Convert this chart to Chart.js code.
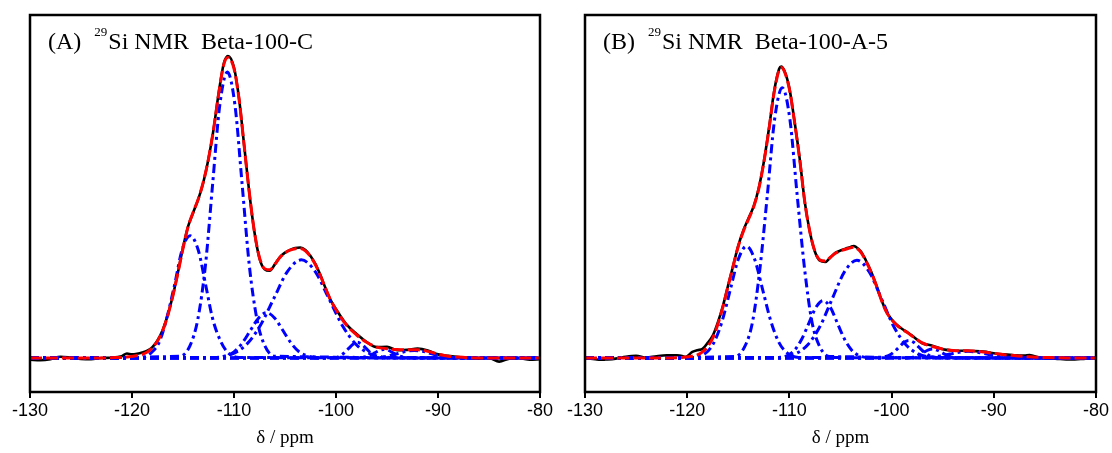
<!DOCTYPE html>
<html>
<head>
<meta charset="utf-8">
<script src="https://cdn.jsdelivr.net/npm/chart.js@4.4.1/dist/chart.umd.min.js"></script>
<style>
  html, body { margin: 0; padding: 0; background: #fff; }
  #wrap { position: relative; width: 1112px; height: 453px; }
  .panel { position: absolute; top: 0; height: 453px; }
</style>
</head>
<body>
<div id="wrap">
  <div class="panel" style="left:0;width:560px"><canvas id="chartA" width="560" height="453"></canvas></div>
  <div class="panel" style="left:556px;width:556px"><canvas id="chartB" width="556" height="453"></canvas></div>
</div>
<script>
// ---------- axis ----------
const xTicks = [-130, -120, -110, -100, -90, -80];

// ---------- panel A : Beta-100-C ----------
const ppmA = [-130,-129,-128,-127,-126,-125,-124,-123,-122,-121,-120.5,-120,-119.5,-119,-118.5,-118,-117.5,-117,-116.5,-116,-115.5,-115,-114.5,-114,-113.5,-113,-112.5,-112,-111.5,-111,-110.6,-110,-109.5,-109,-108.5,-108,-107.5,-107,-106.5,-106,-105.5,-105,-104.5,-104,-103.5,-103,-102.5,-102,-101.5,-101,-100.5,-100,-99,-98,-97,-96,-95,-94,-93,-92,-91,-90,-89,-88,-87,-86,-85,-84,-83,-82,-81,-80];
const expA = [-0.006,-0.007,-0.004,0.004,0.001,-0.003,-0.004,0.0,0.001,0.006,0.015,0.012,0.014,0.018,0.024,0.036,0.058,0.092,0.142,0.206,0.283,0.366,0.436,0.482,0.526,0.583,0.66,0.758,0.878,0.975,1.0,0.962,0.858,0.703,0.548,0.418,0.33,0.294,0.289,0.31,0.334,0.349,0.358,0.364,0.366,0.358,0.338,0.31,0.272,0.229,0.19,0.162,0.112,0.08,0.053,0.036,0.037,0.026,0.027,0.031,0.025,0.012,0.007,0.003,0.001,-0.002,0.0,-0.012,-0.002,-0.001,-0.006,-0.004];
const fitA = [0,0,0,0,0,0,0,0,0.001,0.002,0.003,0.005,0.008,0.012,0.02,0.034,0.056,0.09,0.14,0.205,0.282,0.363,0.435,0.483,0.527,0.584,0.66,0.758,0.876,0.972,0.995,0.958,0.856,0.702,0.548,0.418,0.332,0.296,0.292,0.31,0.333,0.348,0.357,0.362,0.363,0.355,0.336,0.308,0.27,0.228,0.19,0.16,0.11,0.077,0.052,0.036,0.031,0.028,0.027,0.027,0.022,0.013,0.006,0.003,0.001,0,0,0,0,0,0,0];

// deconvoluted components, panel A
const a1Ppm = [-130,-119.1,-118.1,-117.3,-116.6,-115.8,-115.1,-114.3,-113.5,-112.8,-112.1,-111.3,-110.6,-109.5,-80];
const a1Int = [0,0.002,0.018,0.055,0.131,0.246,0.357,0.405,0.357,0.246,0.131,0.055,0.018,0.002,0];
const a2Ppm = [-130,-115.3,-114.3,-113.55,-112.8,-112.1,-111.4,-110.65,-109.9,-109.2,-108.5,-107.75,-107.0,-106.0,-80];
const a2Int = [0,0.006,0.042,0.128,0.307,0.574,0.836,0.947,0.836,0.574,0.307,0.128,0.042,0.006,0];
const a3Ppm = [-130,-111.9,-110.8,-110.0,-109.2,-108.4,-107.6,-106.8,-106.0,-105.2,-104.4,-103.6,-102.8,-101.7,-80];
const a3Int = [0,0.001,0.007,0.02,0.049,0.091,0.132,0.15,0.132,0.091,0.049,0.02,0.007,0.001,0];
const a4Ppm = [-130,-112.0,-110.15,-108.8,-107.45,-106.1,-104.75,-103.4,-102.05,-100.7,-99.35,-98.0,-96.65,-94.8,-80];
const a4Int = [0,0.002,0.014,0.044,0.106,0.197,0.287,0.325,0.287,0.197,0.106,0.044,0.014,0.002,0];
const a5Ppm = [-130,-100.6,-100.0,-99.6,-99.2,-98.75,-98.3,-97.9,-97.5,-97.05,-96.6,-96.2,-95.8,-95.2,-80];
const a5Int = [0,0,0.002,0.007,0.017,0.032,0.046,0.052,0.046,0.032,0.017,0.007,0.002,0,0];
const a6Ppm = [-130,-98.2,-97.55,-97.1,-96.65,-96.2,-95.75,-95.3,-94.85,-94.4,-93.95,-93.5,-93.05,-92.4,-80];
const a6Int = [0,0,0.001,0.004,0.009,0.017,0.025,0.028,0.025,0.017,0.009,0.004,0.001,0,0];
const a7Ppm = [-130,-97.4,-96.3,-95.5,-94.7,-93.9,-93.1,-92.3,-91.5,-90.7,-89.9,-89.1,-88.3,-87.2,-80];
const a7Int = [0,0,0.001,0.003,0.008,0.015,0.022,0.025,0.022,0.015,0.008,0.003,0.001,0,0];

// ---------- panel B : Beta-100-A-5 ----------
const ppmB = [-130,-129,-128.5,-128,-127,-126,-125,-124,-123,-122,-121,-120.5,-120.2,-119.5,-119,-118.5,-118,-117.5,-117,-116.5,-116,-115.5,-115,-114.5,-114,-113.5,-113,-112.5,-112,-111.5,-111,-110.8,-110.5,-110,-109.5,-109,-108.5,-108,-107.5,-107,-106.5,-106,-105.5,-105,-104.5,-104,-103.7,-103.5,-103,-102.5,-102,-101.5,-101,-100.5,-100,-99.5,-99,-98.5,-98,-97,-96,-95,-94,-93,-92,-91,-90,-89,-88,-87,-86.5,-85.5,-84,-82.5,-81,-80];
const expB = [0.0,-0.004,-0.006,-0.005,-0.002,0.004,0.007,0.001,0.006,0.009,0.009,0.007,0.003,0.02,0.026,0.03,0.05,0.074,0.118,0.173,0.24,0.306,0.372,0.423,0.463,0.502,0.562,0.65,0.76,0.882,0.958,0.965,0.952,0.893,0.784,0.662,0.518,0.418,0.352,0.322,0.318,0.333,0.348,0.356,0.362,0.368,0.371,0.368,0.353,0.322,0.286,0.242,0.193,0.153,0.128,0.11,0.097,0.086,0.074,0.049,0.041,0.029,0.025,0.024,0.023,0.021,0.016,0.012,0.009,0.008,0.01,0.001,-0.002,-0.005,-0.002,0.0];
const fitB = [0,0,0,0,0,0,0,0,0,0,0.001,0.002,0.003,0.006,0.01,0.02,0.038,0.066,0.112,0.17,0.238,0.305,0.37,0.42,0.46,0.5,0.56,0.648,0.757,0.878,0.955,0.962,0.95,0.89,0.782,0.66,0.518,0.418,0.353,0.324,0.321,0.333,0.347,0.355,0.36,0.365,0.367,0.365,0.35,0.32,0.284,0.24,0.192,0.152,0.127,0.109,0.096,0.085,0.073,0.05,0.038,0.03,0.025,0.024,0.023,0.02,0.015,0.011,0.008,0.005,0.004,0.002,0.001,0,0,0];

const b1Ppm = [-130,-119.3,-118.2,-117.4,-116.6,-115.8,-115.0,-114.2,-113.4,-112.6,-111.8,-111.0,-110.2,-109.1,-80];
const b1Int = [0,0.002,0.016,0.05,0.12,0.224,0.327,0.37,0.327,0.224,0.12,0.05,0.016,0.002,0];
const b2Ppm = [-130,-115.35,-114.35,-113.6,-112.9,-112.15,-111.45,-110.7,-109.95,-109.25,-108.5,-107.8,-107.05,-106.05,-80];
const b2Int = [0,0.005,0.039,0.121,0.291,0.543,0.79,0.895,0.79,0.543,0.291,0.121,0.039,0.005,0];
const b3Ppm = [-130,-111.2,-110.2,-109.5,-108.8,-108.1,-107.4,-106.7,-106.0,-105.3,-104.6,-103.9,-103.2,-102.2,-80];
const b3Int = [0,0.001,0.008,0.026,0.062,0.115,0.168,0.19,0.168,0.115,0.062,0.026,0.008,0.001,0];
const b4Ppm = [-130,-111.1,-109.4,-108.2,-107.0,-105.8,-104.6,-103.4,-102.2,-101.0,-99.8,-98.6,-97.4,-95.7,-80];
const b4Int = [0,0.002,0.014,0.044,0.105,0.197,0.286,0.324,0.286,0.197,0.105,0.044,0.014,0.002,0];
const b5Ppm = [-130,-101.5,-100.8,-100.3,-99.8,-99.3,-98.8,-98.3,-97.8,-97.3,-96.8,-96.3,-95.8,-95.1,-80];
const b5Int = [0,0,0.003,0.008,0.019,0.035,0.051,0.058,0.051,0.035,0.019,0.008,0.003,0,0];
const b6Ppm = [-130,-98.9,-98.25,-97.8,-97.35,-96.9,-96.45,-96.0,-95.55,-95.1,-94.65,-94.2,-93.75,-93.1,-80];
const b6Int = [0,0,0.001,0.004,0.01,0.018,0.026,0.03,0.026,0.018,0.01,0.004,0.001,0,0];
const b7Ppm = [-130,-98.3,-97.0,-96.1,-95.2,-94.3,-93.4,-92.5,-91.6,-90.7,-89.8,-88.9,-88.0,-86.7,-80];
const b7Int = [0,0,0.001,0.003,0.007,0.013,0.019,0.022,0.019,0.013,0.007,0.003,0.001,0,0];

// ---------- helpers ----------
const pts = (xs, ys) => xs.map((x, i) => ({ x, y: ys[i] }));

// frame + panel title drawn on the canvas
const framePlugin = {
  id: 'frame',
  afterDraw(chart, args, opts) {
    const { ctx, chartArea: a } = chart;
    ctx.save();
    ctx.strokeStyle = '#000';
    ctx.lineWidth = 2.5;
    ctx.strokeRect(a.left, a.top, a.right - a.left, a.bottom - a.top);

    // title: (A)  29Si NMR  Beta-100-C
    let x = a.left + 18;
    const base = 49;
    ctx.fillStyle = '#000';
    ctx.textBaseline = 'alphabetic';
    ctx.textAlign = 'left';
    ctx.font = '24px "Liberation Serif", "Times New Roman", serif';
    ctx.fillText(opts.tag, x, base);
    x += ctx.measureText(opts.tag).width + 13;
    ctx.font = '13px "Liberation Serif", "Times New Roman", serif';
    ctx.fillText('29', x, base - 13);
    x += ctx.measureText('29').width + 1;
    ctx.font = '24px "Liberation Serif", "Times New Roman", serif';
    ctx.fillText('Si NMR\u00a0\u00a0' + opts.sample, x, base);
    ctx.restore();
  }
};

function makePanel(id, tag, sample, ppm, exp, fit, comps) {
  const blue = comps.map(([xs, ys]) => ({
    data: pts(xs, ys),
    borderColor: '#0000ff',
    borderWidth: 3,
    borderDash: [9, 4, 3, 4],
    order: 2
  }));
  return new Chart(document.getElementById(id), {
    type: 'line',
    data: {
      datasets: [
        { data: pts(ppm, exp), borderColor: '#000', borderWidth: 2.6, order: 3 },
        ...blue,
        { data: pts(ppm, fit), borderColor: '#ff0000', borderWidth: 3, borderDash: [12, 4], order: 1 }
      ]
    },
    options: {
      responsive: false,
      animation: false,
      layout: { padding: { left: id === 'chartA' ? 30 : 29, right: id === 'chartA' ? 20 : 16, top: 15, bottom: 0 } },
      elements: { point: { radius: 0 }, line: { cubicInterpolationMode: 'monotone', fill: false } },
      plugins: {
        legend: { display: false },
        tooltip: { enabled: false },
        frame: { tag, sample }
      },
      scales: {
        x: {
          type: 'linear',
          min: -130, max: -80,
          afterBuildTicks: (s) => { s.ticks = xTicks.map(v => ({ value: v })); },
          afterFit: (s) => { s.height = 61; },
          border: { display: false },
          grid: { drawOnChartArea: false, drawTicks: true, tickLength: 6, color: '#000', lineWidth: 2 },
          ticks: { color: '#000', padding: 2, maxRotation: 0, font: { family: '"Liberation Sans", Arial, sans-serif', size: 18 } },
          title: {
            display: true, text: 'δ / ppm', color: '#000',
            padding: { top: 0, bottom: 4 },
            font: { family: '"Liberation Serif", "Times New Roman", serif', size: 19 }
          }
        },
        y: { display: false, min: -0.1126, max: 1.136 }
      }
    },
    plugins: [framePlugin]
  });
}

makePanel('chartA', '(A)', 'Beta-100-C', ppmA, expA, fitA,
  [[a1Ppm, a1Int], [a2Ppm, a2Int], [a3Ppm, a3Int], [a4Ppm, a4Int], [a5Ppm, a5Int], [a6Ppm, a6Int], [a7Ppm, a7Int]]);
makePanel('chartB', '(B)', 'Beta-100-A-5', ppmB, expB, fitB,
  [[b1Ppm, b1Int], [b2Ppm, b2Int], [b3Ppm, b3Int], [b4Ppm, b4Int], [b5Ppm, b5Int], [b6Ppm, b6Int], [b7Ppm, b7Int]]);
</script>
</body>
</html>
